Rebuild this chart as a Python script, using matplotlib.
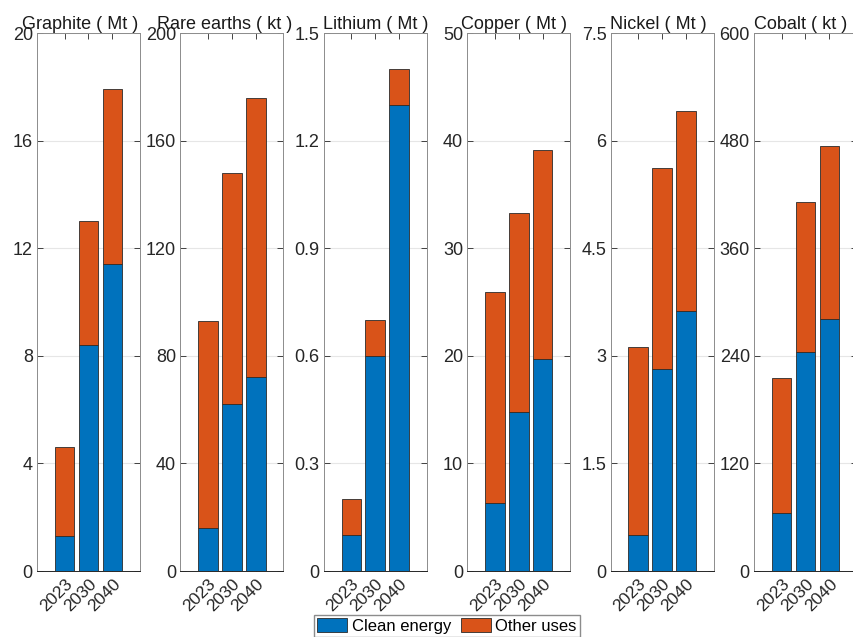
import matplotlib
matplotlib.use('Agg')
import matplotlib.pyplot as plt
import numpy as np

plt.rcParams['font.family'] = ['Liberation Sans', 'DejaVu Sans']

years = ['2023', '2030', '2040']
minerals = ['Graphite ( Mt )', 'Rare earths ( kt )', 'Lithium ( Mt )',
            'Copper ( Mt )', 'Nickel ( Mt )', 'Cobalt ( kt )']

# demand from clean energy technologies
clean = [
    [1.3, 8.4, 11.4],
    [16, 62, 72],
    [0.1, 0.6, 1.3],
    [6.3, 14.8, 19.7],
    [0.5, 2.81, 3.62],
    [65, 244, 281],
]
# total demand (clean energy + other uses)
total = [
    [4.6, 13.0, 17.9],
    [93, 148, 176],
    [0.2, 0.7, 1.4],
    [25.9, 33.3, 39.1],
    [3.12, 5.62, 6.41],
    [215, 411, 474],
]
ymax = [20, 200, 1.5, 50, 7.5, 600]

blue = '#0072BD'
orange = '#D95319'
W, H = 854, 637
title_shift = [-8, -7, 0, -5, -4, -5]   # px, nudges titles off the neighbouring tick labels

fig = plt.figure(figsize=(W / 100, H / 100), dpi=100)

x = np.arange(1, 4)
for i in range(6):
    left = 37 + 143.4 * i
    ax = fig.add_axes([left / W, 66 / H, 103 / W, 538 / H])
    c = np.array(clean[i])
    o = np.array(total[i]) - c
    b1 = ax.bar(x, c, width=0.82, color=blue, edgecolor='#2b2b2b', linewidth=0.6, zorder=3)
    b2 = ax.bar(x, o, bottom=c, width=0.82, color=orange, edgecolor='#2b2b2b', linewidth=0.6, zorder=3)

    ax.set_xlim(2 - 2.15, 2 + 2.15)
    ax.set_ylim(0, ymax[i])
    ticks = np.linspace(0, ymax[i], 6)
    ax.set_yticks(ticks)
    ax.set_yticklabels(['%g' % v for v in ticks])
    ax.set_xticks(x)
    ax.set_xticklabels(years, rotation=45, ha='right', rotation_mode='anchor')
    ax.tick_params(direction='in', top=True, right=True, length=4, width=0.6,
                   color='#262626', labelcolor='#262626', labelsize=13)
    ax.tick_params(axis='y', pad=3)
    ax.tick_params(axis='x', pad=4, labelsize=12.5)
    ax.yaxis.grid(True, color='#e6e6e6', linewidth=0.8, zorder=0)
    ax.set_axisbelow(True)
    for s in ax.spines.values():
        s.set_color('#8c8c8c')
        s.set_linewidth(0.7)
    ax.spines['bottom'].set_color('#262626')
    ax.set_title(minerals[i], fontsize=13, color='#1a1a1a', pad=3,
                 x=0.5 + title_shift[i] / 103)

fig.legend([b1, b2], ['Clean energy', 'Other uses'], loc='upper center',
           bbox_to_anchor=(447 / W, 1 - 615 / H), ncol=2, fontsize=12,
           frameon=True, fancybox=False, edgecolor='#8c8c8c', framealpha=1,
           handlelength=1.8, handleheight=0.9, handletextpad=0.25,
           columnspacing=0.6, borderpad=0.2, borderaxespad=0)

fig.savefig('out.png', dpi=100)
